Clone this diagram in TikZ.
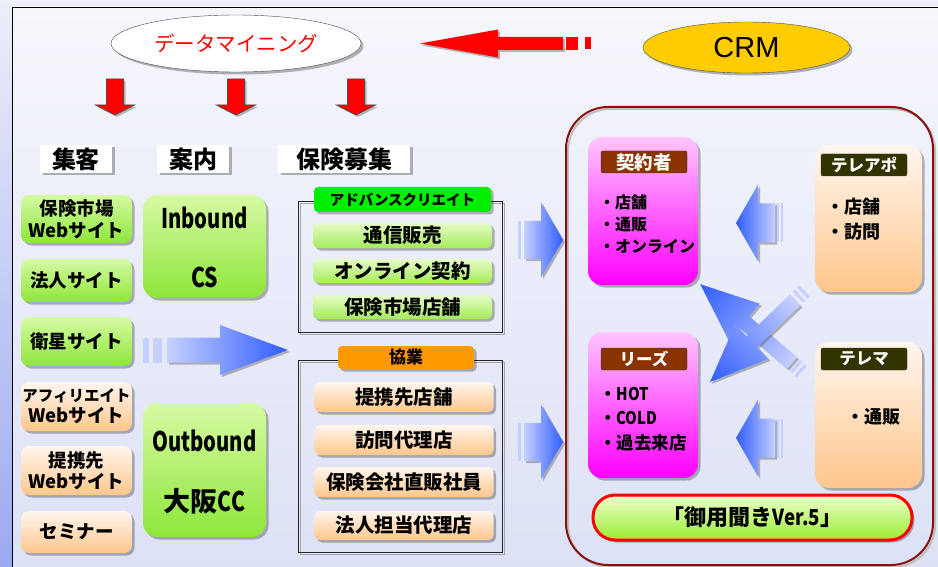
\documentclass[tikz,border=0pt]{standalone}
\usepackage{fontspec}
\usepackage{graphicx}
\setmainfont{Noto Sans CJK JP}
\newfontfamily\lib{Liberation Sans}
\usetikzlibrary{shadows,shapes.geometric}
\definecolor{bgTop}{HTML}{EDEFF9}
\definecolor{bgBot}{HTML}{9AAAF0}
\definecolor{inTop}{HTML}{F6F7FC}
\definecolor{inBot}{HTML}{DCE1F6}
\definecolor{grnT}{HTML}{D6FAA4}
\definecolor{grnB}{HTML}{8EE63A}
\definecolor{itT}{HTML}{E6FCC8}
\definecolor{itB}{HTML}{A4EC5A}
\definecolor{orgT}{HTML}{FFF6EE}
\definecolor{orgB}{HTML}{FFC68C}
\definecolor{magT}{HTML}{FFC6FF}
\definecolor{magB}{HTML}{FF00FF}
\definecolor{brownH}{HTML}{8B3300}
\definecolor{darkH}{HTML}{333300}
\definecolor{crmRed}{HTML}{8B1010}
\definecolor{blueL}{HTML}{C6D0FF}
\definecolor{blueD}{HTML}{2F5CFF}
\definecolor{advG}{HTML}{00EE00}
\definecolor{kyoO}{HTML}{FF9900}
\definecolor{gold}{HTML}{FFCC00}
\definecolor{goyoT}{HTML}{EEFFCC}
\definecolor{goyoB}{HTML}{99EE33}
\newcommand\fsz[1]{\fontsize{#1}{#1}\selectfont}
\newcommand\fsl[2]{\fontsize{#1}{#2}\selectfont}
\newcommand\barrow[9]{%
 \begin{scope}[transform canvas={shift={(#1+2,#2+2)},rotate=#3}]
  \fill[black!60,opacity=0.45] (0,-#5) -- (#4-#7,-#5) -- (#4-#7,-#6) -- (#4,0) -- (#4-#7,#6) -- (#4-#7,#5) -- (0,#5) -- cycle;
 \end{scope}
 \begin{scope}[transform canvas={shift={(#1,#2)},rotate=#3}]
  #9
  \path[#8] (0,-#5) -- (#4-#7,-#5) -- (#4-#7,-#6) -- (#4,0) -- (#4-#7,#6) -- (#4-#7,#5) -- (0,#5) -- cycle;
 \end{scope}}
\tikzset{
 shd/.style={drop shadow={shadow xshift=2.5pt,shadow yshift=-2.5pt,fill=black,opacity=0.28}},
 sec/.style={fill=white, minimum height=28pt, minimum width=72pt, inner sep=0pt, font=\fsz{24}\bfseries, shd},
 lbox/.style={rounded corners=8pt, minimum width=111pt, inner sep=0pt, align=center, font=\fsl{18.5}{21.5}\bfseries, shd},
 lgreen/.style={lbox, top color=grnT, bottom color=grnB},
 lorange/.style={lbox, top color=orgT, bottom color=orgB},
 bigg/.style={rounded corners=14pt, minimum width=123pt, inner sep=0pt, top color=grnT, bottom color=grnB, shd},
 bigtxt/.style={inner sep=0pt, font=\fsz{27}\bfseries},
 item/.style={rounded corners=5pt, minimum width=179pt, inner sep=0pt, font=\fsz{19.5}\bfseries, shd},
 itg/.style={item, top color=itT, bottom color=itB},
 ito/.style={item, top color=orgT, bottom color=orgB},
 grphdr/.style={rounded corners=4pt, inner sep=0pt, shd},
 cbox/.style={rounded corners=14pt, minimum width=110pt, inner sep=0pt, shd},
 hdr/.style={rounded corners=2pt, draw=black!80, text=white, minimum width=86pt, minimum height=22pt, inner sep=0pt, font=\fsz{16.5}\bfseries},
 bul/.style={anchor=west, inner sep=0pt, font=\fsz{16}\bfseries},
 bul2/.style={anchor=west, inner sep=0pt, font=\fsz{18}\bfseries},
 bluearr/.style={left color=blueL, right color=blueD},
 redarr/.style={fill=red, draw=black!70, line width=0.7pt},
 redfill/.style={fill=red},
}
\begin{document}
\begin{tikzpicture}[x=1pt,y=-1pt]
\useasboundingbox (0,0) rectangle (938,567);
% background
\shade[top color=bgTop, bottom color=bgBot] (0,0) rectangle (938,567);
\shade[top color=inTop, bottom color=inBot] (12,7) rectangle (940,570);
\draw[black, line width=0.9pt] (12,570) -- (12,7) -- (940,7);

% top ellipses
\node[ellipse, draw=black!70, fill=white, minimum width=250pt, minimum height=57pt, inner sep=0pt, shd, text=red, font=\fsz{20.5}] (dm) at (236,43.5) {データマイニング};
\node[ellipse, draw=black!70, fill=gold, minimum width=207pt, minimum height=51pt, inner sep=0pt, shd, font=\lib\fsz{29}] (crm) at (746.5,47.5) {CRM};

% red arrows
\barrow{563}{43.5}{180}{143}{6.5}{14}{78}{redfill}{\fill[red] (-3,-6.5) rectangle (-15,6.5); \fill[red] (-22,-6) rectangle (-28,6);}
\barrow{115}{79}{-90}{36}{8.5}{19.5}{10}{redarr}{}
\barrow{236}{79}{-90}{36}{8.5}{19.5}{10}{redarr}{}
\barrow{356}{79}{-90}{36}{8.5}{19.5}{10}{redarr}{}

% section labels
\node[sec] (s1) at (76,159) {集客};
\node[sec] (s2) at (193,159) {案内};
\node[sec, minimum width=132pt] (s3) at (344,159) {保険募集};

% left column
\node[lgreen, minimum height=48pt] (lc1) at (76.5,219) {保険市場\\Webサイト};
\node[lgreen, minimum height=43pt] (lc2) at (76.5,280.5) {法人サイト};
\node[lgreen, minimum height=49pt] (lc3) at (76.5,341.5) {衛星サイト};
\node[lorange, minimum height=49pt] (lc4) at (76.5,406.5) {{\fsz{15.5}アフィリエイト}\\Webサイト};
\node[lorange, minimum height=49pt] (lc5) at (76.5,470.5) {提携先\\Webサイト};
\node[lorange, minimum height=42pt] (lc6) at (76.5,532) {セミナー};

% inbound / outbound
\node[bigg, minimum height=103pt] (ib) at (204.5,246.5) {};
\node[bigtxt] (ib1) at (204.5,218) {\scalebox{0.75}[1]{Inbound}};
\node[bigtxt] (ib2) at (204.5,277) {\scalebox{0.78}[1]{CS}};
\node[bigg, minimum height=134pt] (ob) at (204.5,470) {};
\node[bigtxt] (ob1) at (204.5,441) {\scalebox{0.75}[1]{Outbound}};
\node[bigtxt] (ob2) at (204.5,501) {大阪\scalebox{0.78}[1]{CC}};

% big arrow from 衛星
\barrow{167}{350}{0}{121}{12.5}{25}{68}{bluearr}{\fill[blueL] (-24,-12.5) rectangle (-18,12.5); \fill[blueL] (-14,-12.5) rectangle (-5,12.5);}

% group 1
\draw[black!35, line width=1pt] (300.5,203.5) rectangle (504.5,334.5);
\draw[black!85, line width=0.9pt] (298,201) rectangle (502,332);
\node[grphdr, fill=advG, minimum width=177pt, minimum height=25pt, font=\fsz{14.5}\bfseries] (adv) at (402.5,199.5) {アドバンスクリエイト};
\node[itg, minimum height=25pt] (g1a) at (402.5,235.5) {通信販売};
\node[itg, minimum height=24pt] (g1b) at (402.5,271) {オンライン契約};
\node[itg, minimum height=24pt] (g1c) at (402.5,307) {保険市場店舗};

% group 2
\draw[black!35, line width=1pt] (300.5,362.5) rectangle (504.5,554.5);
\draw[black!85, line width=0.9pt] (298,360) rectangle (502,552);
\node[grphdr, fill=kyoO, minimum width=136pt, minimum height=23pt, font=\fsz{17}\bfseries] (kyo) at (406,357.5) {協業};
\node[ito, minimum height=30pt] (g2a) at (404,397) {提携先店舗};
\node[ito, minimum height=30pt] (g2b) at (404,440) {訪問代理店};
\node[ito, minimum height=30pt] (g2c) at (404,482) {保険会社直販社員};
\node[ito, minimum height=29pt] (g2d) at (404,525.5) {法人担当代理店};

% arrows into CRM
\barrow{524}{240}{0}{39}{19}{37.5}{22}{bluearr}{\fill[blueL] (-6,-19) rectangle (-3,19);}
\barrow{524}{442}{0}{39}{19}{37.5}{22}{bluearr}{\fill[blueL] (-6,-19) rectangle (-3,19);}

% CRM frame
\draw[black!25, line width=2pt, rounded corners=42pt] (568,109) rectangle (935,567);
\draw[crmRed, line width=2pt, rounded corners=42pt] (566,107) rectangle (933,565);

% 契約者 / リーズ
\node[cbox, top color=magT, bottom color=magB, minimum height=148pt] (kei) at (643,211) {};
\node[hdr, fill=brownH, font=\fsz{18.5}\bfseries] (keih) at (644,162) {契約者};
\node[bul] (k1) at (599,202) {・店舗};
\node[bul] (k2) at (599,225) {・通販};
\node[bul] (k3) at (599,246) {・オンライン};

\node[cbox, top color=magT, bottom color=magB, minimum height=146pt] (lee) at (643,405) {};
\node[hdr, fill=brownH] (leeh) at (644,359) {リーズ};
\node[bul, font=\fsz{17.5}\bfseries] (l1) at (599,394) {・\scalebox{0.85}[1]{HOT}};
\node[bul, font=\fsz{17.5}\bfseries] (l2) at (599,418) {・\scalebox{0.85}[1]{COLD}};
\node[bul, font=\fsz{17.5}\bfseries] (l3) at (599,443) {・過去来店};

% テレアポ / テレマ
\node[cbox, top color=orgT, bottom color=orgB, minimum width=107pt, minimum height=147pt] (tap) at (868.5,218.5) {};
\node[hdr, fill=darkH] (taph) at (864,165) {テレアポ};
\node[bul2] (t1) at (826,207) {・店舗};
\node[bul2] (t2) at (826,232) {・訪問};

\node[cbox, top color=orgT, bottom color=orgB, minimum width=107pt, minimum height=146pt] (tm) at (868.5,415) {};
\node[hdr, fill=darkH] (tmh) at (864,359) {テレマ};
\node[bul2] (m1) at (846,417) {・通販};

% left arrows
\barrow{775}{223}{180}{39}{19.5}{38.5}{22}{bluearr}{\fill[blueL] (-2,-19.5) rectangle (-4,19.5); \fill[blueL] (-6,-19.5) rectangle (-8,19.5);}
\barrow{775}{438}{180}{39}{19.5}{38.5}{22}{bluearr}{\fill[blueL] (-2,-19.5) rectangle (-4,19.5); \fill[blueL] (-6,-19.5) rectangle (-8,19.5);}

% cross arrows
\barrow{792}{363}{139.35}{121}{7.5}{24}{58}{bluearr}{\fill[blueL] (-4,-7.5) rectangle (-7,7.5); \fill[blueL] (-10,-7.5) rectangle (-13,7.5);}
\barrow{795}{300}{-136.03}{118}{7.5}{24}{58}{bluearr}{\fill[blueL] (-4,-7.5) rectangle (-7,7.5); \fill[blueL] (-10,-7.5) rectangle (-13,7.5);}

% 御用聞き
\node[rounded corners=22pt, draw=red, line width=3pt, top color=goyoT, bottom color=goyoB, minimum width=319pt, minimum height=45pt, inner sep=0pt, font=\fsz{22}\bfseries, shd] (goyo) at (752.5,517.5) {「御用聞き\scalebox{0.85}[1]{Ver.5}」};
\end{tikzpicture}
\end{document}
